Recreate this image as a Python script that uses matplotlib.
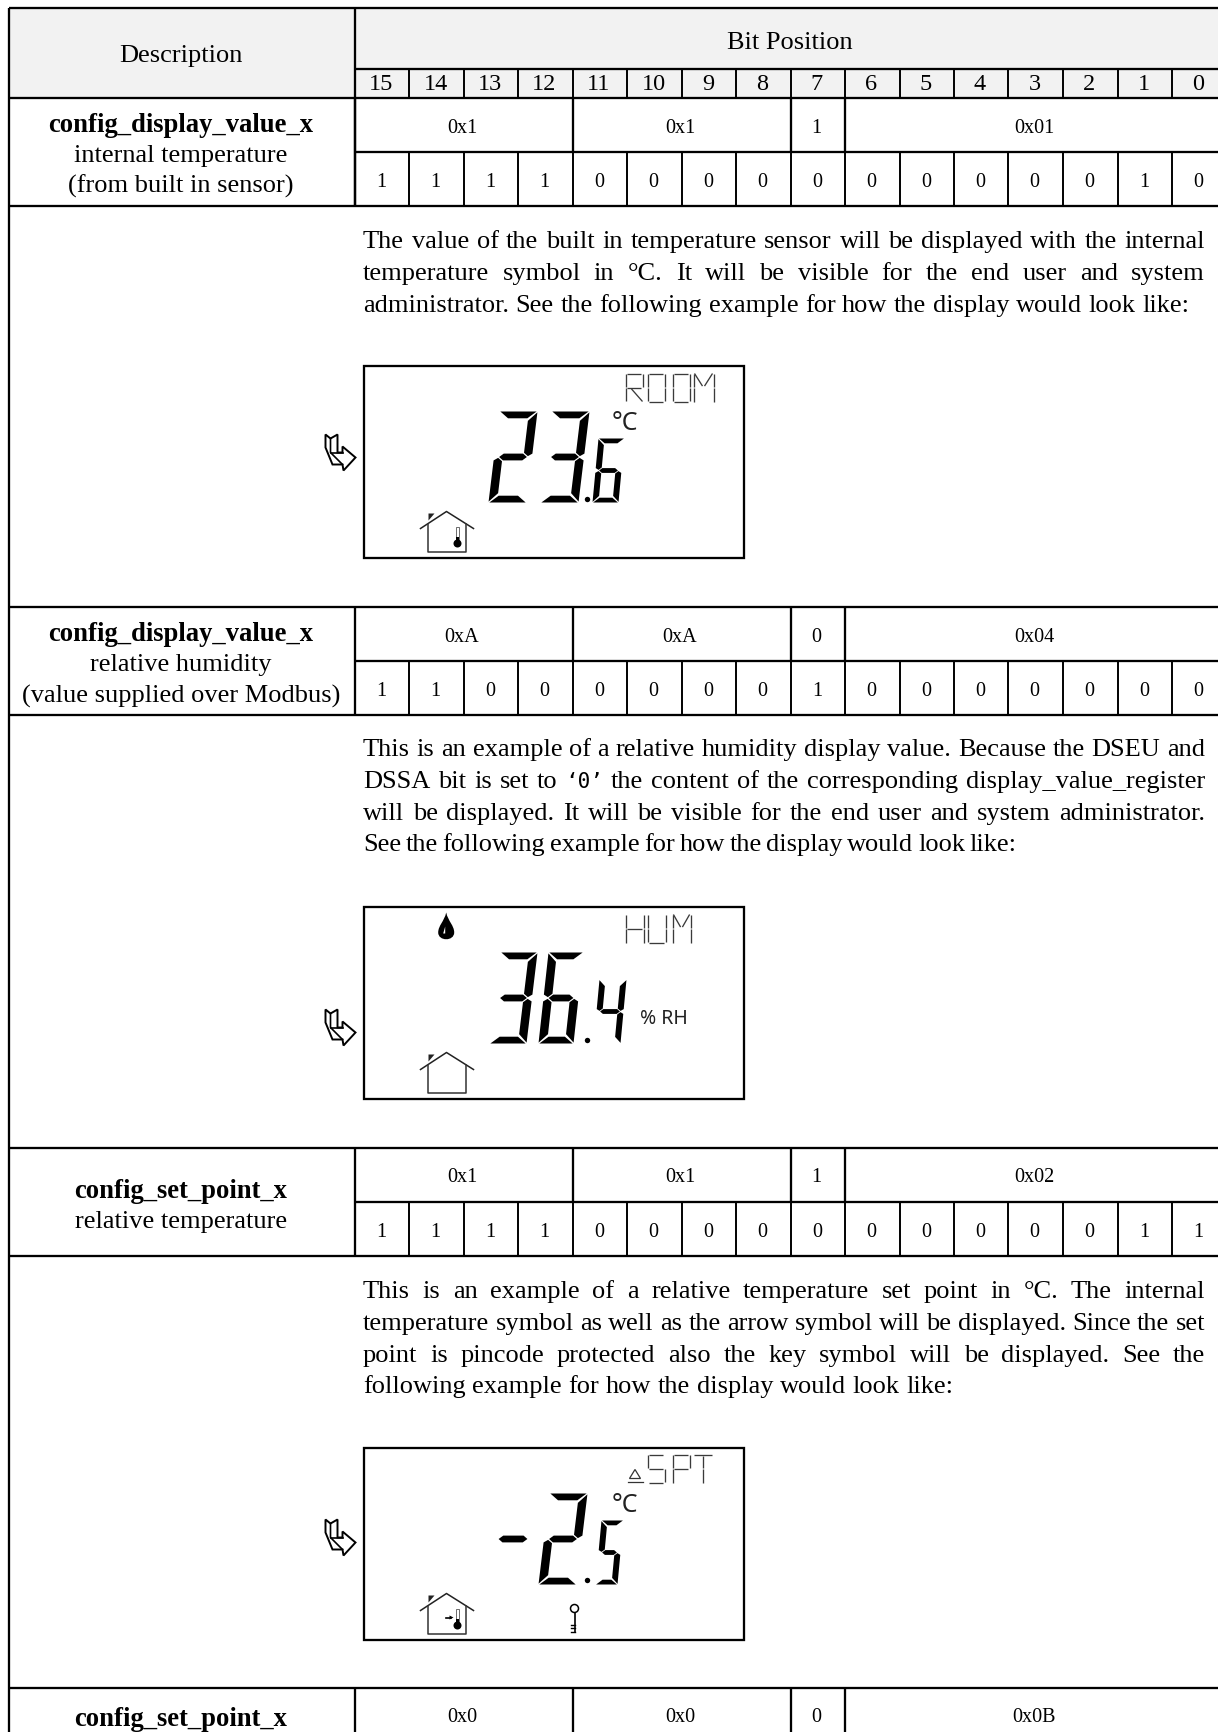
import matplotlib
matplotlib.use("Agg")
import matplotlib.pyplot as plt
from matplotlib.patches import Polygon, Circle, Rectangle, PathPatch
from matplotlib.path import Path

# table contents
BIT_LABELS = ["15", "14", "13", "12", "11", "10", "9", "8", "7", "6", "5", "4", "3", "2", "1", "0"]
ROW_TITLES = ["config_display_value_x", "config_display_value_x", "config_set_point_x", "config_set_point_x"]
ROW_NOTES = [["internal temperature", "(from built in sensor)"],
             ["relative humidity", "(value supplied over Modbus)"],
             ["relative temperature"],
             []]
ROW_HEX = [["0x1", "0x1", "1", "0x01"],
           ["0xA", "0xA", "0", "0x04"],
           ["0x1", "0x1", "1", "0x02"],
           ["0x0", "0x0", "0", "0x0B"]]
ROW_BITS = ["1111000000000010", "1100000010000000", "1111000000000011"]
BODY_1 = ["The value of the built in temperature sensor will be displayed with the internal",
          "temperature symbol in °C. It will be visible for the end user and system",
          "administrator. See the following example for how the display would look like:"]
BODY_2 = ["This is an example of a relative humidity display value. Because the DSEU and",
          "DSSA bit is set to ‘0’ the content of the corresponding display_value_register",
          "will be displayed. It will be visible for the end user and system administrator.",
          "See the following example for how the display would look like:"]
BODY_3 = ["This is an example of a relative temperature set point in °C. The internal",
          "temperature symbol as well as the arrow symbol will be displayed. Since the set",
          "point is pincode protected also the key symbol will be displayed. See the",
          "following example for how the display would look like:"]

W, H = 1218, 1733
SERIF = "Liberation Serif"
LINE = 1.65
BODY_SIZE = 19

fig = plt.figure(figsize=(W / 100, H / 100), dpi=100)
ax = fig.add_axes([0, 0, 1, 1])
ax.set_xlim(-0.5, W - 0.5)
ax.set_ylim(H - 0.5, -0.5)
ax.axis("off")
renderer = fig.canvas.get_renderer()

EDGES = [354, 408, 463, 517, 572, 626, 681, 735, 790, 844, 899, 953, 1007, 1062, 1117, 1171, 1226]
HEX_EDGES = [354, 572, 790, 844, 1226]


def hline(y, x0=8, x1=W, lw=LINE):
    ax.plot([x0, x1], [y, y], color="black", lw=lw, solid_capstyle="butt")


def vline(x, y0, y1, lw=LINE):
    ax.plot([x, x], [y0, y1], color="black", lw=lw, solid_capstyle="butt")


def word_width(word, size=BODY_SIZE, family=SERIF):
    t = ax.text(0, 0, word, fontsize=size, family=family)
    w = t.get_window_extent(renderer).width
    t.remove()
    return w


def draw_word(x, y, word):
    # the quoted zero is set in a mono face in the original
    if word == "‘0’":
        ax.text(x, y, word, fontsize=15, family="DejaVu Sans Mono", va="baseline")
    else:
        ax.text(x, y, word, fontsize=BODY_SIZE, family=SERIF, va="baseline")


def width_of(word):
    if word == "‘0’":
        return word_width(word, 15, "DejaVu Sans Mono")
    return word_width(word)


def justified(lines, baselines, x0=362.5, x1=1204.5, last_gap=None):
    for i, (line, y) in enumerate(zip(lines, baselines)):
        words = line.split(" ")
        widths = [width_of(w) for w in words]
        if i == len(lines) - 1:
            gap = last_gap if last_gap is not None else word_width("a b") - word_width("a") - word_width("b")
        else:
            gap = (x1 - x0 - sum(widths)) / (len(words) - 1)
        x = x0
        for w, ww in zip(words, widths):
            draw_word(x, y, w)
            x += ww + gap


def seven_segment(ch, x, y, w, h, t, slant):
    g = t * 0.1
    m = h / 2
    segs = {
        "a": [(g, 0), (w - g, 0), (w - t - g, t * 0.8), (t + g, t * 0.8)],
        "b": [(w, g), (w, m - g - t * 0.3), (w - t / 2, m - g), (w - t, m - g - t * 0.4), (w - t, t + g)],
        "c": [(w, h - g), (w, m + g + t * 0.3), (w - t / 2, m + g), (w - t, m + g + t * 0.4), (w - t, h - t - g)],
        "d": [(g, h), (w - g, h), (w - t - g, h - t * 0.8), (t + g, h - t * 0.8)],
        "e": [(0, h - g), (0, m + g + t * 0.3), (t / 2, m + g), (t, m + g + t * 0.4), (t, h - t - g)],
        "f": [(0, g), (0, m - g - t * 0.3), (t / 2, m - g), (t, m - g - t * 0.4), (t, t + g)],
        "g": [(t / 2 + g, m), (t + g, m - t * 0.4), (w - t - g, m - t * 0.4), (w - t / 2 - g, m),
              (w - t - g, m + t * 0.4), (t + g, m + t * 0.4)],
    }
    on = {"0": "abcdef", "2": "abged", "3": "abgcd", "4": "fgbc", "5": "afgcd", "6": "afgedc", "-": "g"}[ch]
    for s in on:
        pts = [(x + u + slant * (1 - v / h), y + v) for u, v in segs[s]]
        ax.add_patch(Polygon(pts, closed=True, fc="black", ec="none"))


LETTERS = {
    "R": [(0, .03, 0, .47), (0, .53, 0, .97), (.06, 0, .94, 0), (1, .03, 1, .47), (.06, .5, .94, .5), (.35, .55, 1, 1)],
    "O": [(0, .03, 0, .47), (0, .53, 0, .97), (.06, 0, .94, 0), (1, .03, 1, .47), (1, .53, 1, .97), (.06, 1, .94, 1)],
    "M": [(0, .0, 0, .47), (0, .53, 0, 1), (1, 0, 1, .47), (1, .53, 1, 1), (.05, 0, .45, .45), (.95, 0, .55, .45)],
    "H": [(0, 0, 0, .47), (0, .53, 0, 1), (1, 0, 1, .47), (1, .53, 1, 1), (.06, .5, .94, .5)],
    "U": [(0, 0, 0, .47), (0, .53, 0, .97), (1, 0, 1, .47), (1, .53, 1, .97), (.06, 1, .94, 1)],
    "S": [(.06, 0, .94, 0), (0, .03, 0, .47), (.06, .5, .94, .5), (1, .53, 1, .97), (.06, 1, .94, 1)],
    "P": [(.06, 0, .94, 0), (0, .03, 0, .47), (0, .53, 0, 1), (1, .03, 1, .47), (.06, .5, .94, .5)],
    "T": [(0, 0, 1, 0), (.5, .04, .5, .47), (.5, .53, .5, 1)],
}


def thin_letter(ch, x, y, w, h):
    for u0, v0, u1, v1 in LETTERS[ch]:
        ax.plot([x + u0 * w, x + u1 * w], [y + v0 * h, y + v1 * h], color="#3a3a3a", lw=0.95,
                solid_capstyle="butt")


def pointer(dy):
    # hollow bent arrow left of every display
    pts = [(5, 10), (10, 14), (17, 10), (17, 28), (22, 28), (22, 22), (35, 33), (23, 46), (22, 40), (12, 40), (5, 23)]
    ax.add_patch(Polygon([(320 + a, 425 + dy + b) for a, b in pts], closed=True, fc="none", ec="black", lw=1.4))
    ax.plot([330, 330, 342], [439 + dy, 453 + dy, 465 + dy], color="black", lw=1.2)
    ax.plot([330, 342], [453 + dy, 453 + dy], color="black", lw=1.2)


def house(top, thermo=True, arrow=False):
    ax.plot([420, 446, 473], [top + 163, top + 146, top + 163], color="#222222", lw=1.1)
    ax.plot([427, 427, 465, 465], [top + 158, top + 186, top + 186, top + 158], color="#333333", lw=1.1)
    ax.add_patch(Polygon([(428, top + 148), (434, top + 148), (428, top + 155)], fc="#222222", ec="none"))
    if thermo:
        ax.add_patch(Rectangle((455.4, top + 161), 3.2, 14, fc="white", ec="#555555", lw=0.6))
        ax.add_patch(Rectangle((455.4, top + 171), 3.2, 6, fc="black", ec="none"))
        ax.add_patch(Circle((457, top + 178), 4, fc="black", ec="none"))
    if arrow:
        ax.plot([445, 450], [top + 170, top + 170], color="black", lw=1.2)
        ax.add_patch(Polygon([(449, top + 168), (453, top + 170), (449, top + 172)], fc="black", ec="none"))


def key(top):
    ax.add_patch(Circle((574, top + 161), 4, fc="white", ec="black", lw=1.1))
    ax.plot([574, 574], [top + 165, top + 184], color="black", lw=1.2)
    for v in (177, 180.5, 184):
        ax.plot([570, 574], [top + v, top + v], color="black", lw=1.0)


def droplet(top):
    cx, y0, y1 = 445.7, top + 6, top + 34
    verts = [(cx, y0), (cx + 2, y0 + 9), (cx + 8, y0 + 13), (cx + 8, y0 + 20),
             (cx + 8, y1 + 1), (cx - 8, y1 + 1), (cx - 8, y0 + 20),
             (cx - 8, y0 + 13), (cx - 2, y0 + 9), (cx, y0)]
    codes = [Path.MOVETO] + [Path.CURVE4] * 9
    ax.add_patch(PathPatch(Path(verts, codes), fc="black", ec="none"))
    ax.add_patch(Polygon([(cx - 3, y0 + 21), (cx - 1, y0 + 14), (cx - 1, y0 + 21)], fc="white", ec="none"))


def display(top):
    ax.add_patch(Rectangle((363, top), 380, 192, fc="white", ec="black", lw=LINE))


# header shading
ax.add_patch(Rectangle((8, 8), W - 8, 90, fc="#f2f2f2", ec="none", zorder=0))

# horizontal rules
for y in [8, 98, 206, 607, 715, 1148, 1256, 1688]:
    hline(y)
for y in [69, 152, 661, 1202]:
    hline(y, 354)
vline(8, 8, H)
vline(354, 8, 206)

# header
ax.text(180, 55.5, "Description", fontsize=BODY_SIZE, family=SERIF, ha="center", va="center")
ax.text(789.5, 42.5, "Bit Position", fontsize=BODY_SIZE, family=SERIF, ha="center", va="center")
for i, lab in enumerate(BIT_LABELS):
    ax.text((EDGES[i] + EDGES[i + 1]) / 2 - 0.5, 84, lab, fontsize=17.5, family=SERIF, ha="center", va="center")
for x in EDGES[1:-1]:
    vline(x, 69, 98, lw=1.4)

# register rows
row_tops = [98, 607, 1148, 1688]
title_base = [131.5, 640.5, 1197.5, 1725.5]
note_base = [[161.5, 192.5], [670.5, 702.5], [1227.5], []]
for r, top in enumerate(row_tops):
    ax.text(180.5, title_base[r], ROW_TITLES[r], fontsize=19.2, family=SERIF, weight="bold", ha="center", va="baseline")
    for txt, y in zip(ROW_NOTES[r], note_base[r]):
        ax.text(180.5, y, txt, fontsize=BODY_SIZE, family=SERIF, ha="center", va="baseline")
    for i, txt in enumerate(ROW_HEX[r]):
        ax.text((HEX_EDGES[i] + HEX_EDGES[i + 1]) / 2 - 1.5, top + 29.5, txt, fontsize=14.5, family=SERIF,
                ha="center", va="center")
    y_end = top + 54 if r < 3 else H
    vline(354, top, y_end)
    for x in HEX_EDGES[1:-1]:
        vline(x, top, y_end)
    if r < 3:
        for x in EDGES[1:-1]:
            vline(x, top + 54, top + 108, lw=1.4)
        for i, b in enumerate(ROW_BITS[r]):
            ax.text((EDGES[i] + EDGES[i + 1]) / 2 - 0.5, top + 84, b, fontsize=14.5, family=SERIF,
                    ha="center", va="center")
        vline(354, top + 54, top + 108)

# explanations
justified(BODY_1, [247.5, 279.5, 311.5])
justified(BODY_2, [755.5, 787.5, 819.5, 850.5], last_gap=4.6)
justified(BODY_3, [1297.5, 1329.5, 1361.5, 1392.5])

# display 1, ROOM 23.6
top = 366
display(top)
pointer(0)
seven_segment("2", 488, top + 46, 38, 91, 8.5, 11)
seven_segment("3", 540, top + 46, 38, 91, 8.5, 11)
ax.add_patch(Circle((587, top + 134), 2.7, fc="black", ec="none"))
seven_segment("6", 592, top + 73, 26, 64, 6, 6)
ax.text(611, top + 57, "°C", fontsize=18, family="Noto Sans", va="center", color="#222222")
for ch, x, w in zip("ROOM", [625, 647, 672, 693], [17, 17, 17, 20]):
    thin_letter(ch, x, top + 8, w, 28)
house(top)

# display 2, HUM 36.4
top = 907
display(top)
pointer(575)
droplet(top)
seven_segment("3", 489, top + 46, 37, 91, 8.5, 11)
seven_segment("6", 538, top + 46, 35, 91, 8.5, 10)
ax.add_patch(Circle((587, top + 134), 2.7, fc="black", ec="none"))
seven_segment("4", 593, top + 73, 27, 64, 6, 6)
ax.text(640, top + 111, "% RH", fontsize=14, family="Noto Sans", va="center", color="#222222")
for ch, x, w in zip("HUM", [625, 647, 672], [18, 18, 18]):
    thin_letter(ch, x, top + 8, w, 28)
house(top, thermo=False)

# display 3, SPT -2.5
top = 1448
display(top)
pointer(1085)
seven_segment("-", 487.5, top + 46, 39, 91, 8.5, 11)
seven_segment("2", 538, top + 46, 38, 91, 8.5, 11)
ax.add_patch(Circle((587, top + 133), 2.7, fc="black", ec="none"))
seven_segment("5", 595, top + 73, 22, 64, 6, 6)
ax.text(611, top + 57, "°C", fontsize=18, family="Noto Sans", va="center", color="#222222")
for ch, x, w in zip("SPT", [647, 672, 693], [17, 17, 18]):
    thin_letter(ch, x, top + 7, w, 28)
ax.add_patch(Polygon([(634.5, top + 22), (629, top + 31), (640, top + 31)], closed=True, fc="none", ec="#333333", lw=0.9))
ax.plot([627, 642], [top + 34.5, top + 34.5], color="#333333", lw=0.9)
house(top, arrow=True)
key(top)

fig.savefig("out.png", dpi=100)
